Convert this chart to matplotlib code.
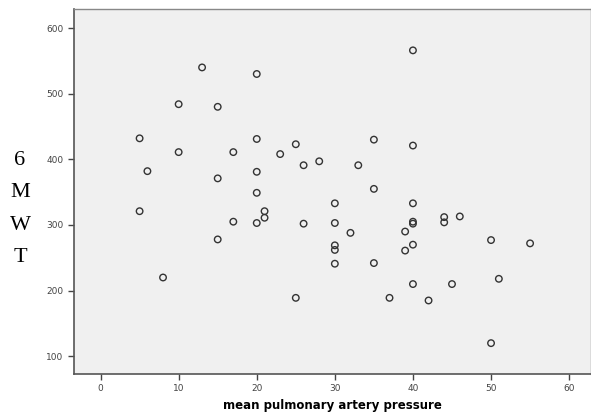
import matplotlib
matplotlib.use("Agg")
from matplotlib import pyplot as plt

# mean pulmonary artery pressure vs 6MWT
mpap = [5, 5, 6, 8, 10, 10, 13, 15, 15, 15, 17, 17, 20, 20, 20, 20, 20, 21, 21,
        23, 25, 25, 26, 26, 28, 30, 30, 30, 30, 30, 32, 33, 35, 35, 35, 37, 39, 39,
        40, 40, 40, 40, 40, 40, 40, 42, 44, 44, 45, 46, 50, 50, 51, 55]
smwt = [432, 321, 382, 220, 484, 411, 540, 480, 371, 278, 411, 305, 530, 431, 381, 349, 303, 321, 311,
        408, 423, 189, 391, 302, 397, 333, 303, 269, 262, 241, 288, 391, 430, 355, 242, 189, 290, 261,
        566, 421, 333, 305, 302, 270, 210, 185, 312, 304, 210, 313, 277, 120, 218, 272]

x_ticks = [0, 10, 20, 30, 40, 50, 60]
y_ticks = [100, 200, 300, 400, 500, 600]

fig = plt.figure(figsize=(5.91, 4.12), dpi=100)
ax = fig.add_axes([74 / 591, 38 / 412, 517 / 591, 365 / 412])
ax.set_facecolor('#f0f0f0')

ax.scatter(mpap, smwt, s=22, facecolors='none', edgecolors='#333333', linewidths=1.0, zorder=3)

ax.set_xlim(-3.4, 62.8)
ax.set_ylim(73, 629)
ax.set_xticks(x_ticks)
ax.set_yticks(y_ticks)
ax.tick_params(axis='both', labelsize=6.5, labelcolor='#444444', color='#444444',
               length=4, width=1, direction='out')
for side in ['left', 'bottom']:
    ax.spines[side].set_color('#555555')
    ax.spines[side].set_linewidth(1.2)
for side in ['top', 'right']:
    ax.spines[side].set_color('#888888')
    ax.spines[side].set_linewidth(1.0)

ax.set_xlabel('mean pulmonary artery pressure', fontsize=8.5, fontweight='bold', labelpad=4)

# stacked y label, as in the original
for i, ch in enumerate(['6', 'M', 'W', 'T']):
    fig.text(20 / 591, 1 - (160 + i * 32.5) / 412, ch, fontsize=16,
             family='Liberation Serif', ha='center', va='center')

plt.savefig('out.png', dpi=100)
